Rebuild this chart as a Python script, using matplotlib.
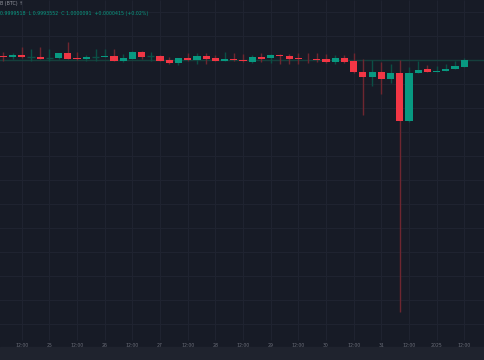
import matplotlib.pyplot as plt
import matplotlib.transforms as mtransforms

# 4h candles, Dec 24 04:00 -> Jan 1 12:00 (price values)
opens = [1.000043, 1.000030, 1.000050, 1.000033, 1.000033, 1.000017, 1.000020,
         1.000067, 1.000023, 1.000007, 1.000027, 1.000030, 1.000043, 0.999993,
         1.000013, 1.000080, 1.000040, 1.000040, 1.000000, 0.999967, 1.000023,
         1.000000, 1.000043, 1.000017, 0.999993, 1.000010, 1.000000, 0.999983,
         1.000027, 1.000017, 1.000050, 1.000040, 1.000020, 1.000017, 1.000010,
         1.000007, 0.999983, 1.000020, 0.999993, 0.999883, 0.999827, 0.999877,
         0.999810, 0.999867, 0.999390, 0.999867, 0.999910, 0.999883, 0.999890,
         0.999907, 0.999933]
highs = [1.000083, 1.000073, 1.000133, 1.000107, 1.000127, 1.000107, 1.000073,
         1.000183, 1.000083, 1.000050, 1.000107, 1.000107, 1.000107, 1.000060,
         1.000090, 1.000090, 1.000083, 1.000050, 1.000027, 1.000023, 1.000073,
         1.000073, 1.000073, 1.000050, 1.000083, 1.000067, 1.000060, 1.000050,
         1.000067, 1.000057, 1.000057, 1.000057, 1.000067, 1.000067, 1.000067,
         1.000057, 1.000050, 1.000050, 1.000067, 1.000010, 1.000000, 0.999977,
         0.999957, 1.000000, 0.999933, 0.999990, 0.999950, 0.999940, 0.999957,
         0.999990, 1.000017]
lows = [0.999993, 1.000007, 1.000017, 0.999993, 1.000007, 0.999993, 1.000007,
        1.000010, 1.000000, 0.999993, 0.999993, 1.000027, 0.999993, 0.999983,
        1.000007, 1.000007, 0.999993, 0.999993, 0.999960, 0.999947, 0.999993,
        0.999957, 0.999960, 0.999987, 0.999993, 0.999993, 0.999977, 0.999973,
        0.999980, 0.999973, 0.999960, 0.999960, 0.999960, 0.999967, 0.999983,
        0.999973, 0.999960, 0.999973, 0.999873, 0.999450, 0.999740, 0.999657,
        0.999767, 0.997480, 0.999383, 0.999867, 0.999883, 0.999883, 0.999890,
        0.999907, 0.999933]
closes = [1.000030, 1.000050, 1.000030, 1.000033, 1.000013, 1.000017, 1.000067,
          1.000013, 1.000010, 1.000033, 1.000027, 1.000043, 0.999993, 1.000023,
          1.000080, 1.000027, 1.000040, 0.999993, 0.999967, 1.000023, 1.000000,
          1.000043, 1.000010, 0.999993, 1.000010, 0.999997, 0.999987, 1.000027,
          1.000013, 1.000050, 1.000037, 1.000013, 1.000013, 1.000016, 1.000003,
          0.999983, 1.000020, 0.999983, 0.999883, 0.999830, 0.999877, 0.999810,
          0.999867, 0.999390, 0.999867, 0.999900, 0.999883, 0.999890, 0.999910,
          0.999940, 1.000000]

tick_idx = [2, 5, 8, 11, 14, 17, 20, 23, 26, 29, 32, 35, 38, 41, 44, 47, 50]
tick_labels = ["12:00", "25", "12:00", "26", "12:00", "27", "12:00", "28", "12:00",
               "29", "12:00", "30", "12:00", "31", "12:00", "2025", "12:00"]

bg = "#171b26"
grid_c = "#1f2330"
up, down = "#089981", "#f23645"
up_dim, down_dim = "#0b4f45", "#6e2630"

fig = plt.figure(figsize=(4.85, 3.6), dpi=100, facecolor=bg)
ax = fig.add_axes([0, 13 / 360, 1, 347 / 360])
ax.set_facecolor(bg)
for s in ax.spines.values():
    s.set_visible(False)
ax.set_xticks([])
ax.set_yticks([])

# pixel mapping: candle i at 3.3 + 9.22*i px, 1 px = 1e-5 in price
ax.set_xlim(-3.3 / 9.22, (485 - 3.3) / 9.22)
ax.set_ylim(1.0006 - 347e-5, 1.0006)

# grid
blend = mtransforms.blended_transform_factory(ax.transData, ax.transAxes)
ax.vlines(tick_idx, 0.02, 1, color=grid_c, lw=0.8, transform=blend, zorder=0)
gy = 1.00048
while gy > 0.9972:
    ax.axhline(gy, color=grid_c, lw=0.8, zorder=0)
    gy -= 0.00024
ax.axhline(1.0, color="#153f3c", lw=1.0, zorder=1)

w = 0.78
for i, (o, h, l, c) in enumerate(zip(opens, highs, lows, closes)):
    col = up if c >= o else down
    dim = up_dim if c >= o else down_dim
    ax.vlines(i, l, h, color=dim, lw=1.0, zorder=2)
    if abs(c - o) < 2e-7:
        ax.hlines(o, i - w / 2, i + w / 2, color=dim, lw=1.0, zorder=3)
    else:
        ax.bar(i, abs(c - o), bottom=min(o, c), width=w, color=col,
               linewidth=0, zorder=3)

for i, lab in zip(tick_idx, tick_labels):
    ax.text(i, 0.003, lab, transform=blend, ha="center", va="center",
            fontsize=3.3, color="#6f727d")

# legend lines (cropped at the left edge)
fig.text(0.0, 1 - 4 / 360, "B (BTC) \u2191", fontsize=3.4, color="#9598a1",
         ha="left", va="center")
fig.text(0.0, 1 - 14 / 360,
         "0.9999518  L 0.9993552  C 1.0000091  +0.0000415 (+0.02%)",
         fontsize=3.4, color=up, ha="left", va="center")

# footer strip
fig.patches.append(plt.Rectangle((0, 0), 1, 13 / 360, transform=fig.transFigure,
                                 color="#1f232e", zorder=0))

fig.savefig("out.png", dpi=100, facecolor=bg)
